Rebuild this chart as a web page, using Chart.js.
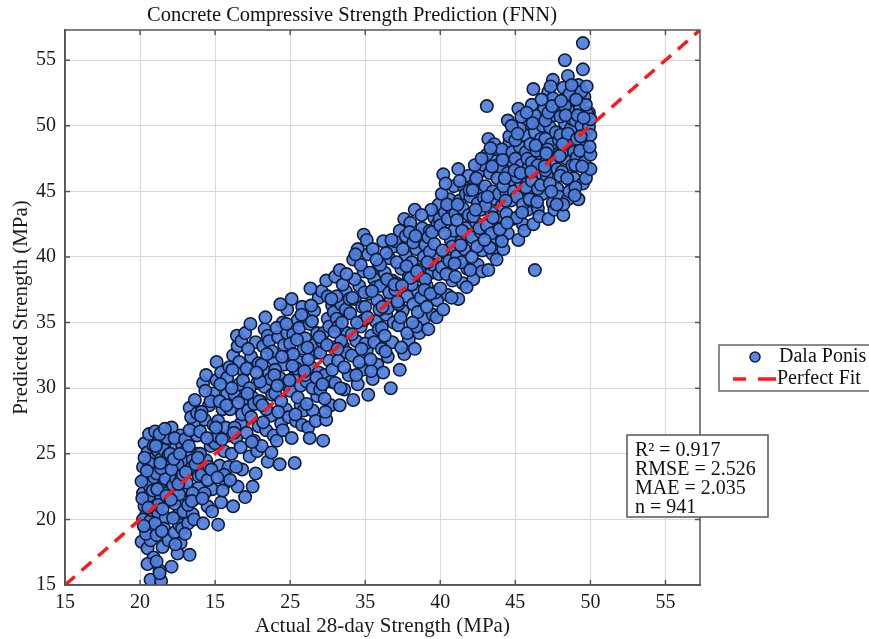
<!DOCTYPE html>
<html lang="en">
<head>
<meta charset="UTF-8">
<title>Concrete Compressive Strength Prediction (FNN)</title>
<style>
  html, body { margin: 0; padding: 0; background: #fff; }
  #wrap { width: 869px; height: 639px; }
</style>
</head>
<body>
<div id="wrap"><canvas id="chart" width="869" height="639"></canvas></div>

<script src="https://cdn.jsdelivr.net/npm/chart.js@4.4.1/dist/chart.umd.min.js"></script>
<script>
const titleText = "Concrete Compressive Strength Prediction (FNN)";
const xTitle = "Actual 28-day Strength (MPa)";
const yTitle = "Predicted Strength (MPa)";
const tickValues = [15, 20, 25, 30, 35, 40, 45, 50, 55];
const xTickLabels = ["15", "20", "15", "25", "35", "40", "45", "50", "55"];
const yTickLabels = ["15", "20", "25", "30", "35", "40", "45", "50", "55"];
const axisMin = 15;
const axisMax = 57.3;
const legendLabels = ["Dala Ponis", "Perfect Fit"];
const statsLines = ["R\u00b2 = 0.917", "RMSE = 2.526", "MAE = 2.035", "n = 941"];

// [actual, predicted] pairs, split by actual strength
const lowBand = [
  [20.1,18.3],[20.2,24.0],[20.3,25.8],[20.3,23.0],[20.2,22.0],[20.3,21.0],[20.4,19.2],[20.5,25.1],[20.5,17.8],[20.7,15.4],
  [20.7,18.4],[20.9,17.1],[20.6,26.5],[20.8,24.6],[20.4,20.3],[20.6,22.6],[20.9,21.5],[20.8,23.7],[20.5,16.6],[20.2,20.0],
  [20.7,19.9],[20.9,25.6],[20.1,22.9],[20.6,24.3],[20.8,20.7],[20.3,24.7],[20.9,19.0],[20.4,18.9],[20.6,21.8],[20.95,23.2],
  [21.0,26.7],[21.3,16.1],[21.4,15.3],[21.3,15.9],[21.5,17.9],[21.1,18.8],[21.2,20.5],[21.4,21.7],[21.6,22.8],[21.8,24.1],
  [21.2,25.2],[21.5,25.9],[21.7,20.1],[21.9,21.4],[21.1,23.5],[21.3,22.4],[21.6,19.3],[21.8,26.2],[21.4,24.6],[21.9,18.4],
  [21.2,21.1],[21.7,23.1],[21.5,20.8],[21.0,19.7],[21.8,22.0],[21.3,26.5],[21.6,25.3],[21.1,16.8],[21.9,24.9],[21.4,23.9],
  [22.1,16.4],[22.7,18.2],[22.3,19.0],[22.5,20.3],[22.8,21.4],[22.2,22.6],[22.6,23.7],[22.9,24.5],[22.4,25.5],[22.7,26.4],
  [22.1,27.0],[22.3,21.2],[22.6,19.6],[22.9,22.3],[22.5,24.2],[22.2,20.1],[22.8,25.7],[22.4,23.1],[22.0,25.0],[22.6,21.9],
  [22.9,20.6],[22.3,26.2],[22.7,23.0],[22.5,17.4],[22.1,23.8],[22.8,19.3],
  [23.3,17.3],[23.2,19.7],[23.5,20.4],[23.7,21.6],[23.1,22.8],[23.4,23.9],[23.8,25.0],[23.0,26.1],[23.6,27.3],[23.3,28.5],
  [23.9,22.4],[23.2,21.1],[23.5,24.6],[23.8,26.4],[23.1,25.3],[23.6,20.0],[23.9,23.3],[23.4,27.8],[23.7,24.2],[23.0,18.9],
  [23.5,22.0],[23.8,28.1],[23.3,26.8],
  [24.2,19.7],[24.5,21.0],[24.8,22.3],[24.1,23.4],[24.4,24.5],[24.7,25.6],[24.0,26.7],[24.3,27.6],[24.6,28.7],[24.9,29.6],
  [24.2,30.4],[24.5,23.0],[24.8,26.0],[24.1,28.2],[24.6,24.0],[24.9,27.2],[24.3,22.0],[24.7,29.0],[24.0,25.0],[24.4,31.0],
  [24.8,20.6],
  [25.2,19.6],[25.1,32.0],[25.4,21.3],[25.7,22.8],[25.3,24.1],[25.6,25.2],[25.9,26.4],[25.2,27.5],[25.5,28.4],[25.8,29.6],
  [25.1,30.6],[25.4,31.2],[25.7,27.0],[25.0,25.8],[25.9,24.0],[25.3,29.0],[25.6,23.4],[25.8,30.8],[25.2,26.3],[25.5,22.2],
  [26.2,21.0],[26.5,22.5],[26.8,23.8],[26.1,25.0],[26.4,26.2],[26.7,27.3],[26.0,28.4],[26.3,29.5],[26.6,30.3],[26.9,31.3],
  [26.2,32.5],[26.5,33.2],[26.8,28.0],[26.1,30.0],[26.7,25.5],[26.4,24.0],[26.9,29.2],[26.3,27.0],[26.6,32.0],[26.0,23.0],
  [20.15,21.6],[20.45,23.7],[20.85,22.2],[20.55,20.9],[20.25,19.5],[21.15,22.3],[21.45,19.1],[21.75,21.8],[21.35,24.3],
  [21.05,25.6],[21.65,26.9],[22.25,24.6],[22.55,22.7],[22.85,23.4],[22.35,18.1],[22.05,21.5],[22.65,25.0],[23.05,23.6],
  [23.45,21.4],[23.85,24.7],[23.25,25.6],[23.65,29.1],[24.15,21.6],[24.45,26.2],[24.75,23.8],[24.35,29.8],[24.05,27.9],
  [25.15,23.2],[25.45,26.1],[25.75,28.7],[25.35,30.3],[25.05,27.0],[25.95,31.6],[26.25,26.6],[26.55,28.9],[26.85,30.6],
  [26.45,34.0],[26.15,31.4],[26.75,33.6]
];

const midBand = [
  [27.7,23.5],[27.5,22.5],[27.0,21.7],[27.3,24.8],[27.6,26.0],[27.9,27.1],[27.2,28.3],[27.5,29.3],[27.8,30.4],[27.1,31.5],
  [27.4,32.4],[27.7,33.5],[27.0,34.2],[27.3,30.0],[27.9,31.9],[27.6,28.8],[27.1,26.6],[27.8,25.2],[27.4,27.8],[27.2,33.0],
  [28.5,24.4],[28.3,34.5],[28.1,25.6],[28.4,26.8],[28.7,27.9],[28.0,29.0],[28.3,30.1],[28.6,31.2],[28.9,32.2],[28.2,33.2],
  [28.5,34.0],[28.8,29.5],[28.1,31.8],[28.4,28.4],[28.7,30.7],[28.9,26.4],[28.6,33.6],[28.2,27.4],[28.8,32.8],[28.0,30.5],
  [29.3,24.2],[29.1,26.0],[29.4,27.3],[29.7,28.4],[29.0,29.6],[29.3,30.8],[29.6,31.8],[29.9,32.8],[29.2,33.9],[29.5,35.0],
  [29.8,36.0],[29.1,34.6],[29.4,29.0],[29.7,30.3],[29.0,31.4],[29.6,33.3],[29.9,27.8],[29.2,28.2],[29.8,34.2],[29.5,26.8],
  [30.3,24.3],[30.1,26.2],[30.4,27.5],[30.7,28.7],[30.0,29.8],[30.3,30.9],[30.6,32.0],[30.9,33.0],[30.2,34.1],[30.5,35.2],
  [30.8,36.2],[30.1,36.8],[30.4,31.5],[30.7,30.2],[30.0,33.4],[30.6,34.6],[30.9,28.3],[30.2,32.6],[30.8,27.2],[30.5,29.3],
  [31.2,27.0],[31.5,28.3],[31.8,29.4],[31.1,30.5],[31.4,31.6],[31.7,32.7],[31.0,33.8],[31.3,34.9],[31.6,35.9],[31.9,36.9],
  [31.2,32.2],[31.5,30.0],[31.8,34.2],[31.1,28.8],[31.4,36.3],[31.7,27.5],[31.0,31.0],[31.6,33.3],[31.9,31.2],[31.3,26.2],
  [32.2,26.0],[32.4,27.6],[32.7,28.7],[32.0,29.9],[32.3,31.0],[32.6,32.1],[32.9,33.1],[32.2,34.2],[32.5,35.3],[32.8,36.3],
  [32.1,37.4],[32.4,38.2],[32.7,30.5],[32.0,32.7],[32.9,35.8],[32.6,34.7],[32.3,29.2],[32.8,31.4],[32.5,37.0],[32.1,33.6],
  [33.3,28.7],[33.6,29.9],[33.9,31.0],[33.2,32.1],[33.5,33.2],[33.8,34.2],[33.1,35.3],[33.4,36.4],[33.7,37.4],[33.0,38.5],
  [33.3,39.0],[33.6,31.6],[33.9,35.8],[33.2,34.7],[33.5,37.9],[33.8,32.7],[33.0,30.4],[33.7,36.0],[33.4,33.6],[33.1,37.0],
  [34.2,29.1],[34.5,30.3],[34.8,31.4],[34.1,32.5],[34.4,33.6],[34.7,34.7],[34.0,35.7],[34.3,36.8],[34.6,37.8],[34.9,38.9],
  [34.2,39.8],[34.5,40.6],[34.9,41.7],[34.8,36.2],[34.1,34.1],[34.6,32.0],[34.3,38.3],[34.9,35.2],[34.4,31.0],[34.7,39.4],
  [35.1,41.3],[35.2,29.5],[35.5,30.7],[35.8,31.8],[35.1,32.9],[35.4,34.0],[35.7,35.1],[35.0,36.2],[35.3,37.2],[35.6,38.3],
  [35.9,39.3],[35.2,40.2],[35.5,40.6],[35.8,36.7],[35.0,33.4],[35.6,33.5],[35.3,38.8],[35.9,34.5],[35.4,31.3],[35.7,37.7],
  [36.7,30.0],[36.2,31.2],[36.5,32.4],[36.8,33.5],[36.1,34.6],[36.4,35.6],[36.7,36.7],[36.0,37.8],[36.3,38.8],[36.6,39.9],
  [36.9,40.8],[36.2,41.2],[36.5,36.1],[36.8,38.2],[36.1,33.0],[36.4,40.3],[36.9,35.0],[36.3,34.0],[36.6,37.3],[36.0,39.4],
  [37.3,31.4],[37.6,32.6],[37.9,33.7],[37.2,34.8],[37.5,35.9],[37.8,37.0],[37.1,38.0],[37.4,39.1],[37.7,40.1],[37.0,41.2],
  [37.3,42.0],[37.6,42.9],[37.9,38.5],[37.2,36.4],[37.5,40.6],[37.8,34.2],[37.1,39.6],[37.4,33.1],[37.7,41.6],[37.0,37.5],
  [38.3,33.0],[38.6,34.2],[38.9,35.3],[38.2,36.4],[38.5,37.4],[38.8,38.5],[38.1,39.6],[38.4,40.6],[38.7,41.7],[38.0,42.6],
  [38.3,43.6],[38.6,39.0],[38.9,40.0],[38.2,41.1],[38.5,35.8],[38.8,42.2],[38.1,37.9],[38.4,34.7],[38.7,36.9],[38.0,38.4],
  [39.2,34.5],[39.5,35.6],[39.8,36.7],[39.1,37.8],[39.4,38.8],[39.7,39.9],[39.0,40.9],[39.3,42.0],[39.6,43.0],[39.9,44.0],
  [39.2,41.5],[39.5,39.4],[39.8,42.5],[39.1,36.2],[39.4,43.6],[39.7,37.3],[39.0,38.3],[39.3,40.4],[39.6,41.0],[39.9,38.7],
  [27.15,29.6],[27.45,25.9],[27.75,31.2],[27.35,34.9],[27.95,29.0],[28.15,28.7],[28.45,32.6],[28.75,25.1],[28.35,35.4],
  [28.95,31.0],[29.15,30.2],[29.45,32.4],[29.75,34.9],[29.35,36.4],[29.95,30.6],[30.15,31.7],[30.45,33.7],[30.75,35.6],
  [30.35,28.0],[30.95,31.3],[31.15,33.1],[31.45,35.1],[31.75,30.8],[31.35,37.6],[31.95,33.9],[32.15,30.3],[32.45,33.3],
  [32.75,36.8],[32.35,28.2],[32.95,34.3],[33.15,33.0],[33.45,35.0],[33.75,38.7],[33.35,30.0],[33.95,36.8],[34.15,36.9],
  [34.45,35.0],[34.75,33.0],[34.35,40.2],[34.95,37.3],[35.15,35.4],[35.45,37.4],[35.75,39.8],[35.35,32.2],[35.95,36.0],
  [36.15,36.2],[36.45,38.3],[36.75,41.3],[36.35,32.8],[36.95,37.9],[37.15,36.6],[37.45,37.8],[37.75,39.3],[37.35,35.4],
  [37.95,41.9],[38.15,35.0],[38.45,38.9],[38.75,43.2],[38.35,41.6],[38.95,37.5],[39.15,39.6],[39.45,41.9],[39.75,35.4],
  [39.35,37.2],[39.95,42.9]
];

const highBand = [
  [40.2,36.0],[40.5,37.1],[40.8,38.2],[40.1,39.2],[40.4,40.3],[40.7,41.3],[40.0,42.4],[40.3,43.4],[40.6,44.4],[40.9,45.4],
  [40.2,46.3],[40.5,42.9],[40.8,40.8],[40.1,44.8],[40.4,38.7],[40.7,43.8],[40.0,37.6],[40.6,39.7],[40.9,42.0],[40.3,41.8],
  [41.2,36.8],[41.5,38.0],[41.8,39.1],[41.1,40.1],[41.4,41.2],[41.7,42.2],[41.0,43.3],[41.3,44.3],[41.6,45.3],[41.9,46.2],
  [41.2,46.7],[41.5,43.7],[41.8,41.7],[41.1,42.8],[41.4,39.6],[41.7,44.8],[41.0,38.5],[41.6,40.6],[41.9,43.2],[41.3,45.8],
  [42.2,38.3],[42.5,39.4],[42.8,40.5],[42.1,41.5],[42.4,42.6],[42.7,43.6],[42.0,44.6],[42.3,45.6],[42.6,46.5],[42.9,47.0],
  [42.2,43.1],[42.5,44.1],[42.8,45.1],[42.1,40.0],[42.4,46.0],[42.7,41.9],[42.0,39.0],[42.6,42.2],[42.9,44.5],[42.3,47.0],
  [42.8,38.9],
  [43.1,51.5],[43.2,39.0],[43.5,40.2],[43.8,41.3],[43.1,42.4],[43.4,43.4],[43.7,44.4],[43.0,45.4],[43.3,46.4],[43.6,47.3],
  [43.9,48.2],[43.2,49.0],[43.5,45.0],[43.8,46.0],[43.1,47.8],[43.4,41.8],[43.7,42.9],[43.0,43.9],[43.6,48.6],[43.9,44.8],
  [43.3,40.7],[43.8,47.0],[43.5,43.0],
  [44.2,40.6],[44.5,41.8],[44.8,42.9],[44.1,43.9],[44.4,44.9],[44.7,45.9],[44.0,46.9],[44.3,47.8],[44.6,48.7],[44.9,49.7],
  [44.2,45.4],[44.5,46.4],[44.8,47.3],[44.1,48.2],[44.4,43.3],[44.7,44.3],[44.0,42.2],[44.6,49.2],[44.9,45.0],[44.3,46.0],
  [44.8,48.0],[44.5,50.4],[44.1,41.2],
  [45.2,41.3],[45.5,42.5],[45.8,43.6],[45.1,44.6],[45.4,45.6],[45.7,46.6],[45.0,47.5],[45.3,48.4],[45.6,49.3],[45.9,50.2],
  [45.2,51.3],[45.5,44.0],[45.8,45.1],[45.1,46.1],[45.4,47.0],[45.7,48.0],[45.0,48.9],[45.6,42.0],[45.9,46.9],[45.3,49.8],
  [45.8,47.5],[45.1,43.0],[45.4,50.7],[45.7,45.3],
  [46.3,39.0],[46.2,42.5],[46.5,43.7],[46.8,44.8],[46.1,45.8],[46.4,46.8],[46.7,47.7],[46.0,48.6],[46.3,49.5],[46.6,50.4],
  [46.9,51.2],[46.2,52.8],[46.5,45.2],[46.8,46.3],[46.1,47.2],[46.4,48.1],[46.7,49.0],[46.0,44.3],[46.6,43.1],[46.9,48.5],
  [46.3,50.8],[46.8,50.0],[46.1,51.6],[46.5,47.0],[46.7,45.5],
  [47.2,42.9],[47.5,44.1],[47.8,45.2],[47.1,46.2],[47.4,47.2],[47.7,48.1],[47.0,49.0],[47.3,49.9],[47.6,50.8],[47.9,51.7],
  [47.2,52.6],[47.5,53.5],[47.8,46.7],[47.1,47.6],[47.4,48.6],[47.7,49.5],[47.0,50.4],[47.6,43.6],[47.9,44.6],[47.3,45.6],
  [47.8,51.2],[47.2,51.0],[47.5,52.1],[47.4,45.0],[47.9,48.9],[47.0,46.6],
  [48.2,43.2],[48.5,44.4],[48.8,45.5],[48.1,46.5],[48.4,47.5],[48.7,48.4],[48.0,49.3],[48.3,50.2],[48.6,51.1],[48.9,52.0],
  [48.2,52.9],[48.5,53.8],[48.3,55.0],[48.8,47.0],[48.1,47.9],[48.4,48.8],[48.7,49.8],[48.0,50.7],[48.6,45.0],[48.9,46.0],
  [48.3,51.5],[48.8,50.5],[48.5,49.4],[48.2,44.0],[48.9,48.0],[48.6,52.4],[48.0,46.2],
  [49.5,56.3],[49.2,44.4],[49.5,45.6],[49.8,46.6],[49.1,47.6],[49.4,48.6],[49.7,49.5],[49.0,50.4],[49.3,51.3],[49.6,52.2],
  [49.9,51.0],[49.2,53.1],[49.5,54.3],[49.8,48.0],[49.1,49.0],[49.4,50.0],[49.7,46.0],[49.0,45.3],[49.6,47.2],[49.9,49.9],
  [49.3,48.1],[49.8,50.9],[49.4,52.6],[49.0,47.0],[49.7,51.6],
  [50.0,49.3],[50.0,47.8],[50.0,46.7],[50.0,50.5],
  [40.15,40.5],[40.45,44.0],[40.75,36.9],[40.35,45.6],[40.95,39.5],[41.15,44.0],[41.45,42.0],[41.75,37.7],[41.35,40.9],
  [41.95,45.1],[42.15,45.1],[42.45,40.8],[42.75,47.5],[42.35,43.6],[42.95,41.3],[43.15,44.6],[43.45,46.9],[43.75,39.8],
  [43.35,48.3],[43.95,42.1],[44.15,47.4],[44.45,42.6],[44.75,50.0],[44.35,44.3],[44.95,46.6],[45.15,49.4],[45.45,43.4],
  [45.75,51.0],[45.35,46.4],[45.95,44.4],[46.15,50.2],[46.45,44.2],[46.75,52.0],[46.35,48.5],[46.95,46.9],[47.15,48.2],
  [47.45,51.5],[47.75,44.0],[47.35,53.0],[47.95,47.7],[48.15,48.6],[48.45,46.0],[48.75,53.1],[48.35,50.8],[48.95,44.7],
  [49.15,50.8],[49.45,46.9],[49.75,53.0],[49.35,49.2],[49.95,48.4],[49.05,52.0],[49.55,50.6],[48.05,51.9],[47.05,47.9],
  [46.05,46.5]
];

const serif = "'Liberation Serif', 'Times New Roman', serif";
const pointFill = 'rgba(78,126,220,0.92)';
const pointEdge = '#101c36';
const fitRed = '#fa1a1a';

const samples = lowBand.concat(midBand, highBand).map(p => ({ x: p[0], y: p[1] }));

// title, frame, legend and stats box drawn over the chart
const decorations = {
  id: 'decorations',
  afterDraw(chart) {
    const ctx = chart.ctx;
    const a = chart.chartArea;
    const xs = chart.scales.x, ys = chart.scales.y;
    ctx.save();

    ctx.strokeStyle = '#555';
    ctx.lineWidth = 1.5;
    ctx.strokeRect(a.left, a.top, a.right - a.left, a.bottom - a.top);
    ctx.beginPath();
    tickValues.forEach(v => {
      const px = xs.getPixelForValue(v), py = ys.getPixelForValue(v);
      ctx.moveTo(px, a.bottom); ctx.lineTo(px, a.bottom - 5);
      ctx.moveTo(px, a.top); ctx.lineTo(px, a.top + 5);
      ctx.moveTo(a.left, py); ctx.lineTo(a.left + 5, py);
      ctx.moveTo(a.right, py); ctx.lineTo(a.right - 5, py);
    });
    ctx.stroke();

    ctx.fillStyle = '#111';
    ctx.font = '20.5px ' + serif;
    ctx.textAlign = 'center';
    ctx.textBaseline = 'middle';
    ctx.fillText(titleText, 352, 16);

    // legend
    ctx.fillStyle = '#fff';
    ctx.fillRect(719, 345, 160, 46);
    ctx.strokeStyle = '#666';
    ctx.lineWidth = 1.5;
    ctx.strokeRect(719, 345, 160, 46);
    ctx.beginPath();
    ctx.arc(755, 357, 5, 0, Math.PI * 2);
    ctx.fillStyle = pointFill;
    ctx.fill();
    ctx.strokeStyle = pointEdge;
    ctx.lineWidth = 1.5;
    ctx.stroke();
    ctx.strokeStyle = fitRed;
    ctx.lineWidth = 3.5;
    ctx.beginPath();
    ctx.moveTo(733, 379); ctx.lineTo(746, 379);
    ctx.moveTo(758, 379); ctx.lineTo(776, 379);
    ctx.stroke();
    ctx.fillStyle = '#111';
    ctx.font = '20px ' + serif;
    ctx.textAlign = 'left';
    ctx.fillText(legendLabels[0], 779, 357);
    ctx.fillText(legendLabels[1], 777, 379);

    // stats box
    ctx.fillStyle = '#fff';
    ctx.fillRect(627, 435, 141, 82);
    ctx.strokeStyle = '#555';
    ctx.lineWidth = 1.5;
    ctx.strokeRect(627, 435, 141, 82);
    ctx.fillStyle = '#111';
    ctx.font = '20px ' + serif;
    statsLines.forEach((t, i) => ctx.fillText(t, 635, 451 + i * 19));

    ctx.restore();
  }
};

const tickFont = { family: serif, size: 20 };
const titleFont = { family: serif, size: 21 };

new Chart(document.getElementById('chart'), {
  type: 'scatter',
  data: {
    datasets: [
      {
        type: 'line',
        label: legendLabels[1],
        data: [{ x: axisMin, y: axisMin }, { x: axisMax, y: axisMax }],
        borderColor: fitRed,
        borderWidth: 3.5,
        borderDash: [13, 9],
        pointRadius: 0,
        fill: false,
        order: 0
      },
      {
        label: legendLabels[0],
        data: samples,
        backgroundColor: pointFill,
        borderColor: pointEdge,
        borderWidth: 1.6,
        pointRadius: 6.2,
        order: 1
      }
    ]
  },
  options: {
    responsive: false,
    animation: false,
    layout: { padding: { top: 30, right: 169, bottom: 0, left: 0 } },
    plugins: {
      legend: { display: false },
      tooltip: { enabled: false }
    },
    scales: {
      x: {
        type: 'linear',
        min: axisMin,
        max: axisMax,
        afterBuildTicks: s => { s.ticks = tickValues.map(v => ({ value: v })); },
        afterFit: s => { s.height = 54; },
        grid: { color: '#d9d9d9', lineWidth: 1, drawTicks: false },
        border: { color: '#555', width: 1.5 },
        ticks: {
          padding: 6, color: '#1a1a1a', font: tickFont, maxRotation: 0, autoSkip: false,
          callback: (v, i) => xTickLabels[i]
        },
        title: { display: true, text: xTitle, color: '#1a1a1a', font: titleFont, padding: { top: 0, bottom: 0 } }
      },
      y: {
        type: 'linear',
        min: axisMin,
        max: axisMax,
        afterBuildTicks: s => { s.ticks = tickValues.map(v => ({ value: v })); },
        afterFit: s => { s.width = 65; },
        grid: { color: '#d9d9d9', lineWidth: 1, drawTicks: false },
        border: { color: '#555', width: 1.5 },
        ticks: {
          padding: 9, color: '#1a1a1a', font: tickFont, autoSkip: false,
          callback: (v, i) => yTickLabels[i]
        },
        title: { display: true, text: yTitle, color: '#1a1a1a', font: titleFont, padding: { top: 9, bottom: 0 } }
      }
    }
  },
  plugins: [decorations]
});
</script>
</body>
</html>
